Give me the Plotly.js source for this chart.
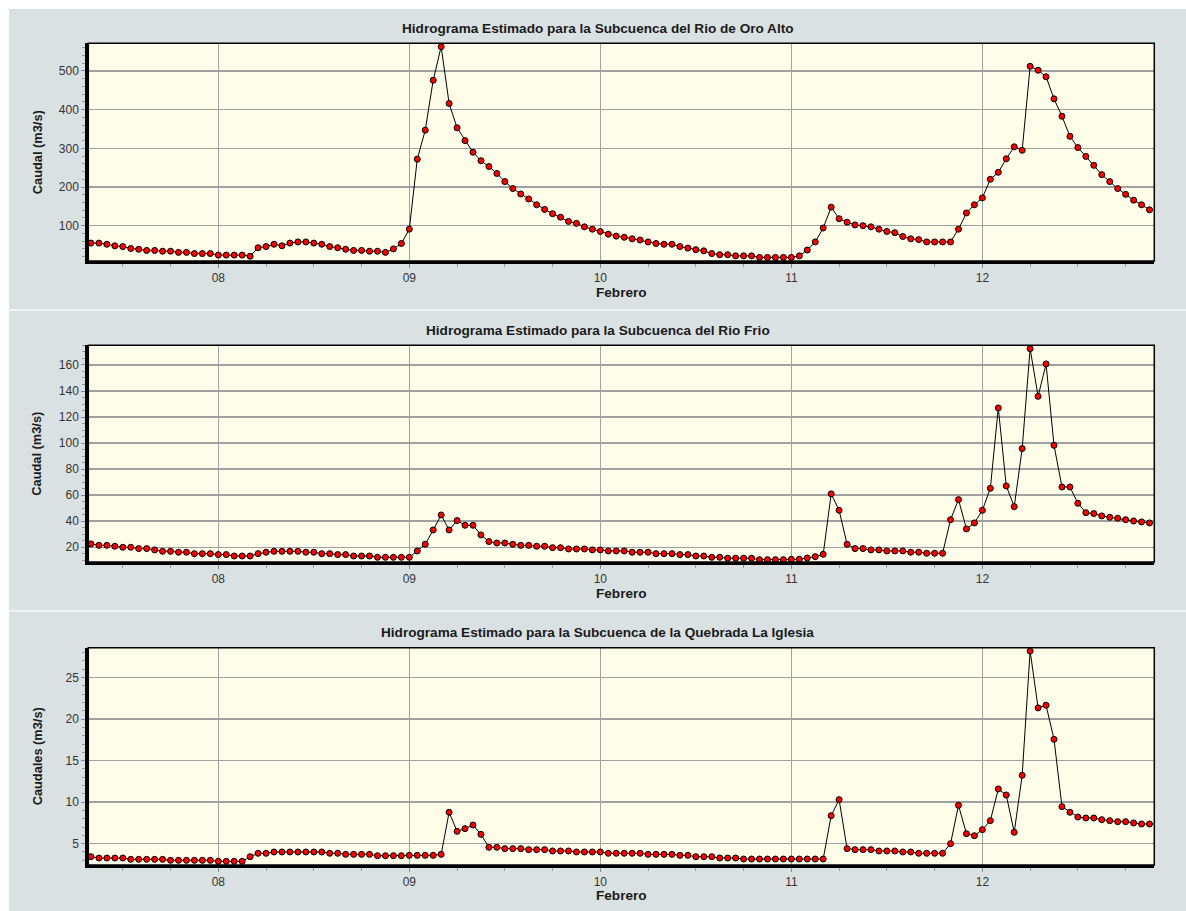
<!DOCTYPE html>
<html><head><meta charset="utf-8">
<script src="https://cdn.plot.ly/plotly-3.0.1.min.js"></script>
<style>html,body{margin:0;padding:0;background:#fff}</style>
</head><body>
<div id="chart" style="width:1186px;height:911px"></div>
<script>
// ---- data (hourly, starting 07 Feb 08:00) ----
const startDate = [2011, 1, 7, 8]; // year, month(0-based), day, hour
const xAxisLabel = 'Febrero';
const panelTitles = [
  'Hidrograma Estimado para la Subcuenca del Rio de Oro Alto',
  'Hidrograma Estimado para la Subcuenca del Rio Frio',
  'Hidrograma Estimado para la Subcuenca de la Quebrada La Iglesia'
];
const yTitles = ['Caudal (m3/s)', 'Caudal (m3/s)', 'Caudales (m3/s)'];

const oroAlto = [
  55,55,52,48,46,41,39,36,36,34,34,31,31,28,28,28,
  24,24,24,24,21,43,46,52,48,55,58,58,55,52,46,43,39,36,36,34,34,31,40,54,
  91,272,347,476,563,416,353,320,290,268,253,235,214,196,182,169,154,142,131,122,111,106,97,91,
  85,78,73,70,66,63,58,54,52,52,46,42,38,35,28,25,25,22,22,22,18,18,18,18,
  18,22,37,58,94,148,118,109,102,100,97,91,85,82,72,66,64,58,58,58,58,91,133,154,
  172,220,238,273,304,295,512,502,485,428,383,331,302,279,256,232,214,196,181,166,154,141
];
const rioFrio = [
  22.6,21.5,21.5,20.8,20,20,19,19,18,16.9,16.9,16.2,16.2,15.1,15.1,15.1,
  14.4,14.4,13.3,13.3,13.3,15.1,16.2,16.9,16.9,16.9,16.9,16.2,16.2,15.1,15.1,14.4,14.4,13.3,13.3,13.3,12.3,12.3,12.3,12.3,
  12.3,17.2,22.3,33.3,44.8,33.3,40.5,36.9,36.9,29.5,24.4,23.3,23.3,22.3,21.5,21.5,20.8,20.8,19.7,19.7,18.7,18.7,18.7,18.0,
  18,17.2,17.2,17.2,16.2,16.2,16.2,15.1,15.1,15.1,14.4,14.4,13.3,13.3,12.3,12.3,11.6,11.6,11.6,11.6,10.5,10.5,10.5,10.5,
  10.8,10.8,11.8,12.8,14.6,61,48.4,22.3,19,19,18,18,17.2,17.2,17.2,16.2,16.2,15.4,15.4,15.4,41.2,56.6,34.1,38.7,
  48.4,65.3,127,67.1,51.2,95.8,172.5,135.9,160.8,98.3,66.3,66.3,53.8,46.6,45.9,44.1,43,42.3,41.2,40.2,39.5,38.7
];
const laIglesia = [
  3.43,3.27,3.27,3.27,3.27,3.11,3.11,3.11,3.11,3.11,2.99,2.99,2.99,2.99,2.99,2.99,
  2.87,2.87,2.87,2.87,3.43,3.84,3.84,4.0,4.0,4.0,4.0,4.0,4.0,4.0,3.84,3.84,3.71,3.71,3.71,3.71,3.55,3.55,3.55,3.55,
  3.59,3.59,3.59,3.59,3.71,8.78,6.49,6.81,7.25,6.12,4.56,4.56,4.40,4.40,4.40,4.28,4.28,4.28,4.12,4.12,4.12,4.0,4.0,4.0,
  4.0,3.84,3.84,3.84,3.84,3.84,3.71,3.71,3.71,3.71,3.59,3.59,3.43,3.43,3.43,3.27,3.27,3.27,3.15,3.15,3.15,3.15,3.15,3.15,
  3.15,3.15,3.15,3.15,3.15,8.37,10.3,4.40,4.28,4.28,4.28,4.12,4.12,4.12,4.0,4.0,3.84,3.84,3.84,3.84,5.0,9.62,6.2,5.96,
  6.69,7.77,11.59,10.86,6.37,13.23,28.2,21.35,21.67,17.57,9.46,8.78,8.21,8.09,8.09,7.89,7.77,7.65,7.65,7.49,7.37,7.37
];
const yRanges = [[8.7, 571.6], [8.7, 175.1], [2.43, 28.6]];
const yMajor = [100, 20, 5];
const yMinor = [20, 5, 1];
const xRange = ['2011-02-07 07:40', '2011-02-12 21:36'];

// ---- build ----
const pad = n => String(n).padStart(2, '0');
function fmt(d) {
  return d.getUTCFullYear() + '-' + pad(d.getUTCMonth() + 1) + '-' + pad(d.getUTCDate()) +
    ' ' + pad(d.getUTCHours()) + ':00';
}
const t0 = Date.UTC(startDate[0], startDate[1], startDate[2], startDate[3]);
const times = oroAlto.map((_, i) => fmt(new Date(t0 + i * 3600000)));

const W = 1186, H = 911;
const plotL = 88.3, plotR = 1154.3;
const plotTB = [[43.3, 261], [345.3, 562], [647.7, 865]];
const titleY = [28, 330, 632];
const xTitleY = [293, 593, 895];

const series = [oroAlto, rioFrio, laIglesia];
const data = series.map((ys, i) => ({
  x: times, y: ys, type: 'scatter', mode: 'lines+markers',
  xaxis: i === 0 ? 'x' : 'x' + (i + 1),
  yaxis: i === 0 ? 'y' : 'y' + (i + 1),
  line: {color: '#000', width: 1},
  marker: {color: '#ff0000', size: 6, line: {color: '#000', width: 1}},
  hoverinfo: 'x+y', showlegend: false
}));

const fam = 'Liberation Sans, Arial, sans-serif';
const tickFont = {family: fam, size: 12, color: '#333'};
const layout = {
  width: W, height: H,
  margin: {l: 0, r: 0, t: 0, b: 0},
  paper_bgcolor: '#dae1e3',
  plot_bgcolor: '#fdfde9',
  showlegend: false,
  shapes: [], annotations: []
};
// white page edges
layout.shapes.push({type: 'rect', xref: 'paper', yref: 'paper', x0: 0, x1: 9 / W, y0: 0, y1: 1,
  fillcolor: '#fff', line: {width: 0}, layer: 'below'});
layout.shapes.push({type: 'rect', xref: 'paper', yref: 'paper', x0: 0, x1: 1, y0: 1 - 9 / H, y1: 1,
  fillcolor: '#fff', line: {width: 0}, layer: 'below'});
[310, 611].forEach(py => layout.shapes.push({type: 'line', xref: 'paper', yref: 'paper',
  x0: 9 / W, x1: 1, y0: 1 - py / H, y1: 1 - py / H, line: {color: '#f0f3f4', width: 2}}));

for (let i = 0; i < 3; i++) {
  const s = i === 0 ? '' : String(i + 1);
  const [top, bot] = plotTB[i];
  layout['xaxis' + s] = {
    type: 'date', domain: [plotL / W, plotR / W], anchor: 'y' + s, range: xRange,
    tickformat: '%d', dtick: 86400000, tick0: '2011-02-08',
    ticks: 'outside', ticklen: 4, tickcolor: '#888', tickwidth: 1,
    showgrid: true, gridcolor: '#a0a0a0', gridwidth: 1.5,
    showline: true, linecolor: '#000', linewidth: 3, zeroline: false,
    tickfont: tickFont, fixedrange: true,
    minor: {dtick: 21600000, ticks: 'outside', ticklen: 3, tickcolor: '#999', showgrid: false}
  };
  layout['yaxis' + s] = {
    domain: [1 - bot / H, 1 - top / H], anchor: 'x' + s, range: yRanges[i],
    dtick: yMajor[i], tick0: 0,
    ticks: 'outside', ticklen: 4, tickcolor: '#888', tickwidth: 1,
    showgrid: true, gridcolor: '#a0a0a0', gridwidth: 1.5,
    showline: true, linecolor: '#000', linewidth: 3, zeroline: false,
    tickfont: tickFont, fixedrange: true,
    minor: {dtick: yMinor[i], ticks: 'outside', ticklen: 3, tickcolor: '#999', showgrid: false}
  };
  layout.shapes.push({type: 'rect', xref: 'x' + s + ' domain', yref: 'y' + s + ' domain',
    x0: 0, x1: 1, y0: 0, y1: 1, line: {color: '#000', width: 1.5}});
  layout.annotations.push({text: '<b>' + panelTitles[i] + '</b>', xref: 'paper', yref: 'paper',
    x: 597.5 / W, y: 1 - titleY[i] / H, xanchor: 'center', yanchor: 'middle', showarrow: false,
    font: {family: fam, size: 13.6, color: '#1a1a1a'}});
  layout.annotations.push({text: '<b>' + xAxisLabel + '</b>', xref: 'paper', yref: 'paper',
    x: (plotL + plotR) / 2 / W, y: 1 - xTitleY[i] / H, xanchor: 'center', yanchor: 'middle', showarrow: false,
    font: {family: fam, size: 13.6, color: '#1a1a1a'}});
  layout.annotations.push({text: '<b>' + yTitles[i] + '</b>', xref: 'paper', yref: 'paper',
    x: 37 / W, y: 1 - (top + bot) / 2 / H, xanchor: 'center', yanchor: 'middle', showarrow: false,
    textangle: -90, font: {family: fam, size: 12.8, color: '#1a1a1a'}});
}

Plotly.newPlot('chart', data, layout, {displayModeBar: false, staticPlot: true});
</script>
</body></html>
